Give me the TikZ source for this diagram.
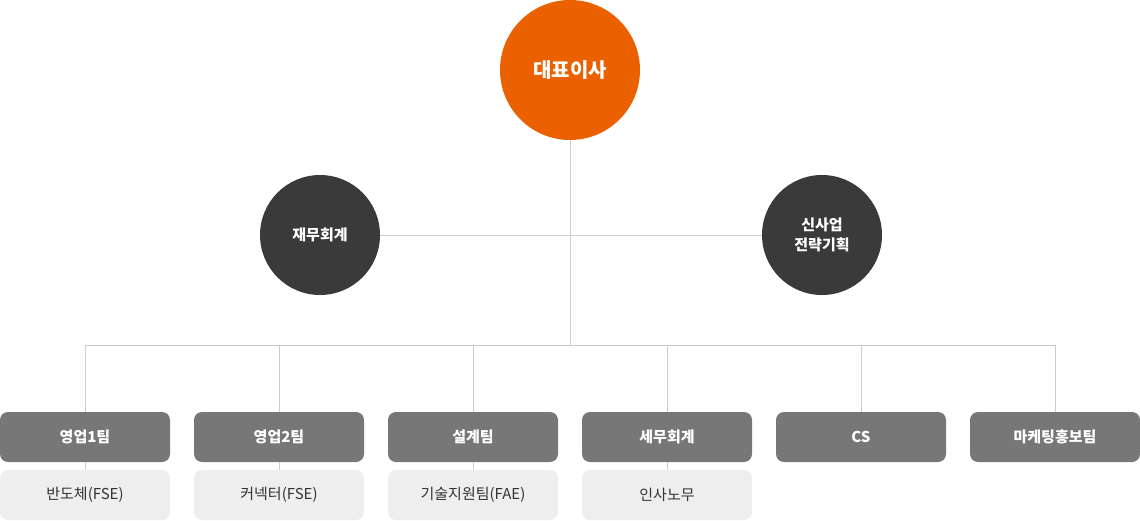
\documentclass[tikz,border=0pt]{standalone}
\usepackage{fontspec}
\setmainfont{Noto Sans CJK KR}
\definecolor{ceoorange}{HTML}{EB6100}
\definecolor{circlegray}{HTML}{3A3A3A}
\definecolor{teamgray}{HTML}{777777}
\definecolor{subgray}{HTML}{EEEEEE}
\definecolor{linegray}{HTML}{CCCCCC}
\definecolor{subtext}{HTML}{333333}
\begin{document}
\begin{tikzpicture}[x=1pt, y=-1pt,
      every node/.style = {align=center, inner sep=0pt},
      boss/.style = {circle, fill=ceoorange, text=white,
        minimum size=140pt, font=\fontsize{20}{24}\selectfont\bfseries},
      staff/.style = {circle, fill=circlegray, text=white,
        minimum size=120pt, font=\fontsize{15}{20}\selectfont\bfseries},
      team/.style = {rectangle, rounded corners=8pt, fill=teamgray,
        text=white, minimum width=170pt, minimum height=50pt,
        font=\fontsize{15}{18}\selectfont\bfseries},
      subteam/.style = {rectangle, rounded corners=8pt, fill=subgray,
        text=subtext, minimum width=170pt, minimum height=50pt,
        font=\fontsize{15}{18}\selectfont},
      link/.style = {draw=linegray, line width=1pt}]
      \useasboundingbox (0,0) rectangle (1140,520);
      \node[boss] (ceo) at (570,70) {대표이사};
      \node[staff] (finance) at (320,235) {재무회계};
      \node[staff] (planning) at (822,235) {신사업\\전략기획};
      \coordinate (branch) at (570,345);
      \draw[link] (ceo.south) -- (branch);
      \draw[link] (finance.east) -- (planning.west);
      \draw[link] (85,345) -- (1055,345);
      \foreach \name/\label [count=\i from 0] in
          {sales1/영업1팀, sales2/영업2팀, design/설계팀,
           tax/세무회계, cs/CS, marketing/마케팅홍보팀} {
        \node[team] (\name) at (85+194*\i,437) {\label};
        \draw[link] (85+194*\i,345) -- (\name.north);
      }
      \foreach \name/\label [count=\i from 0] in
          {sales1/반도체(FSE), sales2/커넥터(FSE),
           design/기술지원팀(FAE), tax/인사노무} {
        \node[subteam] (\name-sub) at (85+194*\i,495) {\label};
        \draw[link] (\name.south) -- (\name-sub.north);
      }
    \end{tikzpicture}
\end{document}
